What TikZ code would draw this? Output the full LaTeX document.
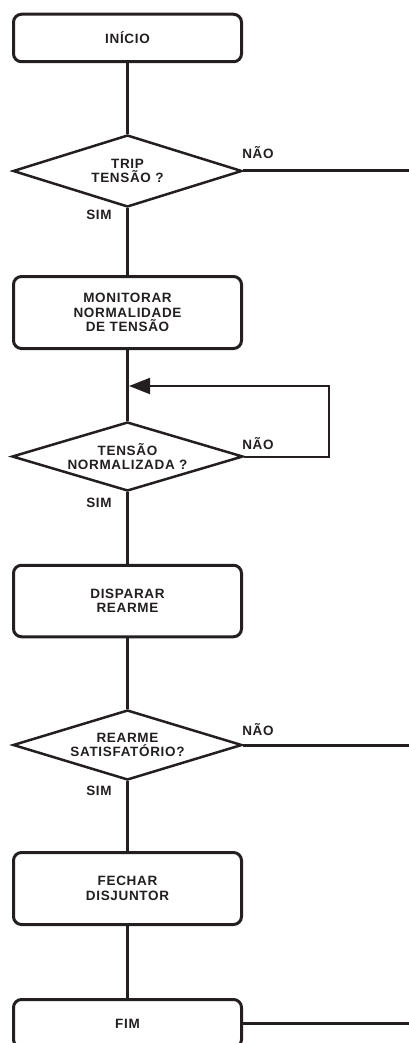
\documentclass[tikz,border=0pt]{standalone}
\usepackage{fontspec}
\setmainfont{Liberation Sans}
\newfontfamily\lblfont{Liberation Sans Bold}[LetterSpace=5]
\usetikzlibrary{shapes.geometric,arrows.meta}
\definecolor{ink}{HTML}{231F20}
\begin{document}
\begin{tikzpicture}[x=1pt,y=-1pt,
  txt/.style={font=\lblfont\fontsize{13.5pt}{14.5pt}\selectfont, text=ink},
  box/.style={txt, draw=ink, line width=3pt, rounded corners=8pt, minimum width=228pt, inner sep=0pt, align=center},
  dec/.style={txt, diamond, aspect=3.3, draw=ink, line width=2.5pt, minimum width=229pt, inner sep=0pt, align=center},
  conn/.style={draw=ink, line width=3pt},
  backline/.style={draw=ink, line width=2pt},
  lbl/.style={txt, inner sep=0pt, anchor=base}
]
\useasboundingbox (0,0) rectangle (409,1043);
\clip (0,0) rectangle (409,1043);
\node[box, minimum height=47.5pt] (start) at (127.5,38) {INÍCIO};
\node[dec, minimum height=72pt] (d1) at (127.5,171) {TRIP\\TENSÃO ?};
\node[box, minimum height=72pt] (mon) at (127.5,312.5) {MONITORAR\\NORMALIDADE\\DE TENSÃO};
\node[dec, minimum height=69pt, minimum width=231pt] (d2) at (127.5,456.5) {TENSÃO\\NORMALIZADA ?};
\node[box, minimum height=71.5pt] (disp) at (127.5,601) {DISPARAR\\REARME};
\node[dec, minimum height=70pt] (d3) at (127.5,745) {REARME\\SATISFATÓRIO?};
\node[box, minimum height=72pt] (fech) at (127.5,888.5) {FECHAR\\DISJUNTOR};
\node[box, minimum height=48pt] (fim) at (127.5,1023.5) {FIM};
\coordinate (o1) at (409,171);
\coordinate (o3) at (409,745);
\coordinate (o5) at (409,1023.5);
\coordinate (lr1) at (329,456.5);
\coordinate (lin) at (129,386);
\draw[conn] (start) -- (d1);
\draw[conn] (d1) -- (mon);
\draw[conn] (mon) -- (d2);
\draw[conn] (d2) -- (disp);
\draw[conn] (disp) -- (d3);
\draw[conn] (d3) -- (fech);
\draw[conn] (fech) -- (fim);
\draw[conn] (d1.east) -- (o1);
\draw[conn] (d3.east) -- (o3);
\draw[conn] (fim.east) -- (o5);
\draw[backline, -{Triangle[length=21pt,width=16pt]}] (d2.east) -- (lr1) |- (lin);
\node[lbl] (n1) at (258,159) {NÃO};
\node[lbl] (s1) at (99,219) {SIM};
\node[lbl] (n2) at (258,449) {NÃO};
\node[lbl] (s2) at (99,507) {SIM};
\node[lbl] (n3) at (258,735) {NÃO};
\node[lbl] (s3) at (99,795) {SIM};
\end{tikzpicture}
\end{document}
